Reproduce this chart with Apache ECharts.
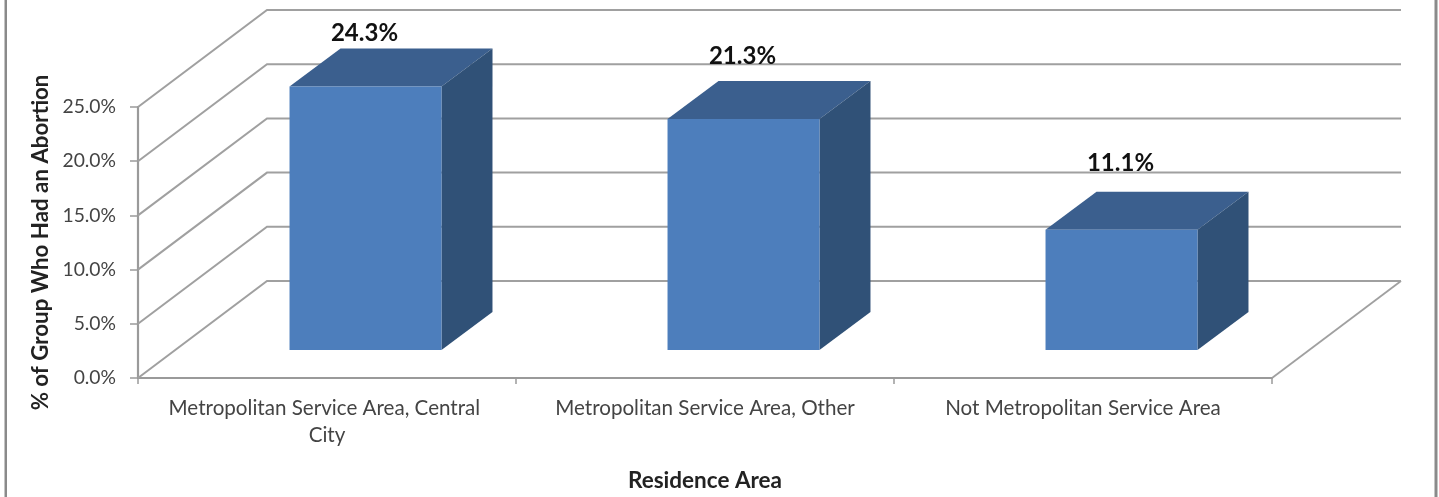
<!DOCTYPE html>
<html>
<head>
<meta charset="utf-8">
<style>html,body{margin:0;padding:0;background:#fff}#c{width:1439px;height:497px}</style>
<script src="https://cdn.jsdelivr.net/npm/echarts@6/dist/echarts.min.js"></script>
</head>
<body>
<div id="c"></div>
<script>
const categories = ['Metropolitan Service Area, Central City', 'Metropolitan Service Area, Other', 'Not Metropolitan Service Area'];
const percentages = [24.3, 21.3, 11.1];
const gridTicks = [0, 5, 10, 15, 20, 25];
const yAxisTitle = '% of Group Who Had an Abortion';
const xAxisTitle = 'Residence Area';

// Pseudo-3D projection constants (pixels)
const WALL_DX = 129, WALL_DY = -97;
const BAR_SHIFT_X = 38.5, BAR_SHIFT_Y = -28;
const BAR_DX = 51, BAR_DY = -38;
const BAR_RATIO = 0.402;
const LABEL_LIFT = [53, 63, 66];
const FONT = 'Lato, "Open Sans", sans-serif';
const GRID_COLOR = '#a0a0a0';

const chart = echarts.init(document.getElementById('c'), null, {renderer: 'canvas'});

function renderWall(params, api) {
  const cs = params.coordSys;
  const v = api.value(0);
  const y = api.coord([0, v])[1];
  const x0 = cs.x, x1 = cs.x + cs.width;
  const children = [{
    type: 'polyline',
    shape: {points: [[x0, y], [x0 + WALL_DX, y + WALL_DY], [x1 + WALL_DX, y + WALL_DY]]},
    style: {fill: 'none', stroke: GRID_COLOR, lineWidth: 2}
  }];
  if (v === 0) {
    children.push({
      type: 'line',
      shape: {x1: x1, y1: y, x2: x1 + WALL_DX, y2: y + WALL_DY},
      style: {stroke: GRID_COLOR, lineWidth: 1.8}
    });
  }
  return {type: 'group', children: children};
}

function renderBar(params, api) {
  const idx = api.value(0), val = api.value(1);
  const top = api.coord([idx, val]);
  const base = api.coord([idx, 0]);
  const w = api.size([1, 0])[0] * BAR_RATIO;
  const l = top[0] + BAR_SHIFT_X - w / 2, r = l + w;
  const t = top[1] + BAR_SHIFT_Y, b = base[1] + BAR_SHIFT_Y;
  return {
    type: 'group',
    children: [
      {type: 'polygon', shape: {points: [[l, t], [r, t], [r + BAR_DX, t + BAR_DY], [l + BAR_DX, t + BAR_DY]]},
        style: {fill: '#3b5f8e'}},
      {type: 'polygon', shape: {points: [[r, t], [r + BAR_DX, t + BAR_DY], [r + BAR_DX, b + BAR_DY], [r, b]]},
        style: {fill: '#305177'}},
      {type: 'rect', shape: {x: l, y: t, width: w, height: b - t}, style: {fill: '#4d7ebc'}},
      {type: 'text', x: l + w / 2 - 1, y: t - LABEL_LIFT[params.dataIndex],
        style: {text: val.toFixed(1) + '%', fill: '#111', font: 'bold 24px ' + FONT, align: 'center', verticalAlign: 'middle'}}
    ]
  };
}

chart.setOption({
  animation: false,
  backgroundColor: '#fff',
  grid: {left: 138, right: 167, top: 107, bottom: 119, containLabel: false, outerBoundsMode: 'none'},
  graphic: [
    {type: 'rect', shape: {x: 4.5, y: 0, width: 2.5, height: 497}, style: {fill: '#8a8a8a'}},
    {type: 'rect', shape: {x: 1434.5, y: 0, width: 3, height: 497}, style: {fill: '#8a8a8a'}}
  ],
  xAxis: {
    type: 'category',
    data: categories,
    name: xAxisTitle,
    nameLocation: 'middle',
    nameGap: 91,
    nameTextStyle: {fontFamily: FONT, fontWeight: 'bold', fontSize: 22.5, color: '#222'},
    axisLine: {lineStyle: {color: '#9a9a9a', width: 2.2}},
    axisTick: {show: true, alignWithLabel: false, length: 6, lineStyle: {color: '#9a9a9a', width: 1.5}},
    axisLabel: {interval: 0, width: 340, overflow: 'break', lineHeight: 27, margin: 17, color: '#444', fontFamily: FONT, fontSize: 20.6, hideOverlap: false},
    splitLine: {show: false}
  },
  yAxis: {
    type: 'value',
    min: 0,
    max: 25,
    interval: 5,
    name: yAxisTitle,
    nameLocation: 'middle',
    nameRotate: 90,
    nameGap: 86,
    nameTextStyle: {fontFamily: FONT, fontWeight: 'bold', fontSize: 22.3, color: '#222'},
    axisLine: {show: true, lineStyle: {color: '#9a9a9a', width: 2.2}},
    axisTick: {show: true, length: 8, lineStyle: {color: '#9a9a9a', width: 1.5}},
    axisLabel: {formatter: v => v.toFixed(1) + '%', margin: 22, color: '#444', fontFamily: FONT, fontSize: 19.3},
    splitLine: {show: false}
  },
  series: [
    {type: 'custom', name: 'walls', silent: true, clip: false, z: 1, renderItem: renderWall,
      encode: {y: 0}, data: gridTicks.map(v => [v])},
    {type: 'custom', name: 'bars', silent: true, clip: false, z: 2, renderItem: renderBar,
      encode: {x: 0, y: 1}, data: percentages.map((v, i) => [i, v])}
  ]
});
</script>
</body>
</html>
